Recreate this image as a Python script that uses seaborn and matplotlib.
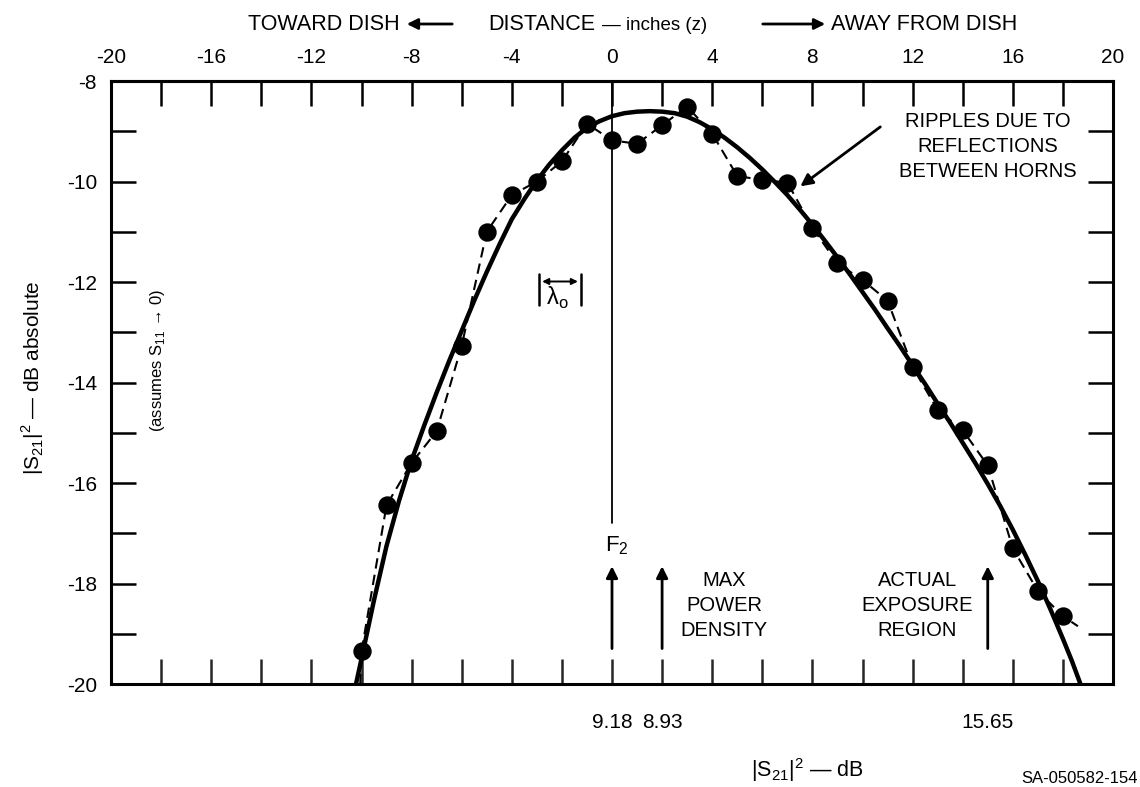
import matplotlib
matplotlib.use("Agg")
import matplotlib.pyplot as plt
from matplotlib.patches import FancyArrowPatch
from matplotlib.ticker import MultipleLocator, FixedLocator
import pandas as pd
import seaborn as sns

# measured points (dots), one reading per inch of z
z_meas = [-10, -9, -8, -7, -6, -5, -4, -3, -2, -1, 0, 1, 2, 3, 4,
          5, 6, 7, 8, 9, 10, 11, 12, 13, 14, 15, 16, 17, 18]
db_meas = [-19.35, -16.44, -15.6, -14.97, -13.27, -11.0, -10.27, -10.0, -9.6, -8.85,
           -9.18, -9.25, -8.88, -8.51, -9.05, -9.89, -9.97, -10.02, -10.92, -11.63,
           -11.96, -12.37, -13.69, -14.55, -14.95, -15.65, -17.3, -18.15, -18.65]

# where the dashed trace starts and ends beyond the dots
z_trace_ends = [-10.05, 18.6]
db_trace_ends = [-20.0, -18.85]

# smooth hand-drawn curve, read along its length
z_fit = [-10.22, -10, -9.5, -9, -8.5, -8, -7.5, -7, -6.5, -6, -5.5, -5, -4.5, -4,
         -3.5, -3, -2.5, -2, -1.5, -1, -0.5, 0, 0.5, 1, 1.5, 2, 2.5, 3, 3.5, 4,
         4.5, 5, 5.5, 6, 6.5, 7, 7.5, 8, 8.5, 9, 9.5, 10, 10.5, 11, 11.5, 12,
         12.5, 13, 13.5, 14, 14.5, 15, 15.5, 16, 16.5, 17, 17.5, 18, 18.35, 18.7]
db_fit = [-20.0, -19.5, -18.33, -17.25, -16.35, -15.55, -14.86, -14.2, -13.57, -12.97,
          -12.37, -11.8, -11.26, -10.75, -10.35, -9.98, -9.66, -9.38, -9.13, -8.93,
          -8.8, -8.7, -8.64, -8.61, -8.6, -8.61, -8.64, -8.71, -8.82, -8.96,
          -9.13, -9.32, -9.53, -9.76, -10.01, -10.27, -10.56, -10.86, -11.18, -11.51,
          -11.85, -12.2, -12.55, -12.92, -13.28, -13.66, -14.03, -14.42, -14.8, -15.2,
          -15.6, -16.02, -16.46, -16.93, -17.43, -17.95, -18.51, -19.1, -19.53, -20.0]

# labelled marks on the bottom scale (|S21|^2 in dB at those z)
mark_z = [0, 2, 15]
mark_labels = ["9.18", "8.93", "15.65"]

W, H = 1140, 787


def px(x, y):
    return x / W, 1 - y / H


sns.set_theme(style="white")
plt.rcParams["font.family"] = ["Liberation Sans", "DejaVu Sans"]
plt.rcParams["axes.unicode_minus"] = False
plt.rcParams["mathtext.fontset"] = "custom"
plt.rcParams["mathtext.rm"] = "Liberation Sans"

fig = plt.figure(figsize=(W / 100, H / 100), dpi=100)
ax = fig.add_axes([111 / W, 1 - 684 / H, 1002 / W, 603 / H])

meas = pd.DataFrame({"z": z_meas, "db": db_meas})
trace = pd.DataFrame({"z": [z_trace_ends[0]] + z_meas + [z_trace_ends[1]],
                      "db": [db_trace_ends[0]] + db_meas + [db_trace_ends[1]]})
fit = pd.DataFrame({"z": z_fit, "db": db_fit})

sns.lineplot(data=fit, x="z", y="db", sort=False, estimator=None, color="black",
             lw=3.2, ax=ax, zorder=3)
sns.lineplot(data=trace, x="z", y="db", sort=False, estimator=None, color="black",
             lw=1.5, ax=ax, zorder=2, linestyle=(0, (5, 3)))
sns.scatterplot(data=meas, x="z", y="db", color="black", s=150, edgecolor="black",
                ax=ax, zorder=4)

ax.set_xlim(-20, 20)
ax.set_ylim(-20, -8)
ax.set_xlabel("")
ax.set_ylabel("")

for sp in ax.spines.values():
    sp.set_linewidth(2.2)
    sp.set_color("black")

# left / right ticks
ax.yaxis.set_major_locator(MultipleLocator(2))
ax.yaxis.set_minor_locator(MultipleLocator(1))
ax.tick_params(axis="y", which="both", direction="in", length=18, width=1.8,
               left=True, right=True, labelsize=15, pad=10, colors="black")

# bottom: ticks every 2 in, labels only at the marked spots
ax.xaxis.remove_overlapping_locs = False
ax.xaxis.set_major_locator(FixedLocator(mark_z))
ax.set_xticklabels(mark_labels)
ax.xaxis.set_minor_locator(FixedLocator(list(range(-18, 19, 2))))
ax.tick_params(axis="x", which="major", length=0, pad=21, labelsize=15, colors="black")
ax.tick_params(axis="x", which="minor", direction="in", length=18, width=1.8,
               bottom=True, top=False)

# top distance scale
top = ax.secondary_xaxis("top")
top.xaxis.set_major_locator(FixedLocator(list(range(-20, 21, 4))))
top.xaxis.set_minor_locator(FixedLocator(list(range(-18, 19, 2))))
top.tick_params(axis="x", which="both", direction="in", length=18, width=1.8,
                labelsize=15, pad=10, colors="black")
top.spines["top"].set_linewidth(2.2)

# F2 reference line
ax.plot([0, 0], [-8, -16.8], color="black", lw=1.3, zorder=1)

# upward arrows at the bottom
for zz in mark_z:
    ax.annotate("", xy=(zz, -17.6), xytext=(zz, -19.35),
                arrowprops=dict(arrowstyle="-|>", color="black", lw=2,
                                mutation_scale=17))

txt = dict(color="black", fontsize=14.5, ha="center", va="center", linespacing=1.4)
ax.text(0.2, -17.25, r"F$_2$", color="black", fontsize=16, ha="center", va="center")
ax.text(4.47, -18.43, "MAX\nPOWER\nDENSITY", **txt)
ax.text(12.18, -18.43, "ACTUAL\nEXPOSURE\nREGION", **txt)
ax.text(15.0, -9.31, "RIPPLES DUE TO\nREFLECTIONS\nBETWEEN HORNS", **txt)
ax.annotate("", xy=(7.43, -10.13), xytext=(10.8, -8.88),
            arrowprops=dict(arrowstyle="-|>", color="black", lw=2, mutation_scale=18))

# lambda_o bracket
for zz in (-2.9, -1.25):
    ax.plot([zz, zz], [-11.84, -12.46], color="black", lw=1.8)
ax.annotate("", xy=(-2.9, -11.99), xytext=(-1.25, -11.99),
            arrowprops=dict(arrowstyle="<|-|>", color="black", lw=1.4, mutation_scale=9))
ax.text(-2.2, -12.32, r"λ$_{\mathrm{o}}$", fontsize=17, ha="center", va="center",
        color="black")

# axis titles
fig.text(*px(33, 378), r"$|\mathrm{S}_{21}|^2$ — dB absolute", rotation=90,
         fontsize=15, ha="center", va="center", color="black")
fig.text(*px(158, 360), r"(assumes S$_{11}$ → 0)", rotation=90,
         fontsize=12, ha="center", va="center", color="black")
fig.text(*px(807, 770), r"$|\mathrm{S}_{21}|^2$ — dB", fontsize=15.5,
         ha="center", va="center", color="black")

# top heading with arrows
head = dict(fontsize=15.5, va="center", color="black")
fig.text(*px(400, 24), "TOWARD DISH", ha="right", **head)
fig.text(*px(488, 24), "DISTANCE", ha="left", **head)
fig.text(*px(602, 25), "— inches (z)", ha="left", fontsize=13.5, va="center",
         color="black")
fig.text(*px(831, 24), "AWAY FROM DISH", ha="left", **head)
fig.add_artist(FancyArrowPatch(px(455, 24), px(404, 24), transform=fig.transFigure,
                               arrowstyle="-|>", mutation_scale=16, lw=2, color="black"))
fig.add_artist(FancyArrowPatch(px(760, 24), px(828, 24), transform=fig.transFigure,
                               arrowstyle="-|>", mutation_scale=16, lw=2, color="black"))

fig.text(*px(1138, 786), "SA-050582-154", fontsize=12, ha="right", va="bottom",
         color="black")

fig.savefig("out.png", dpi=100)
